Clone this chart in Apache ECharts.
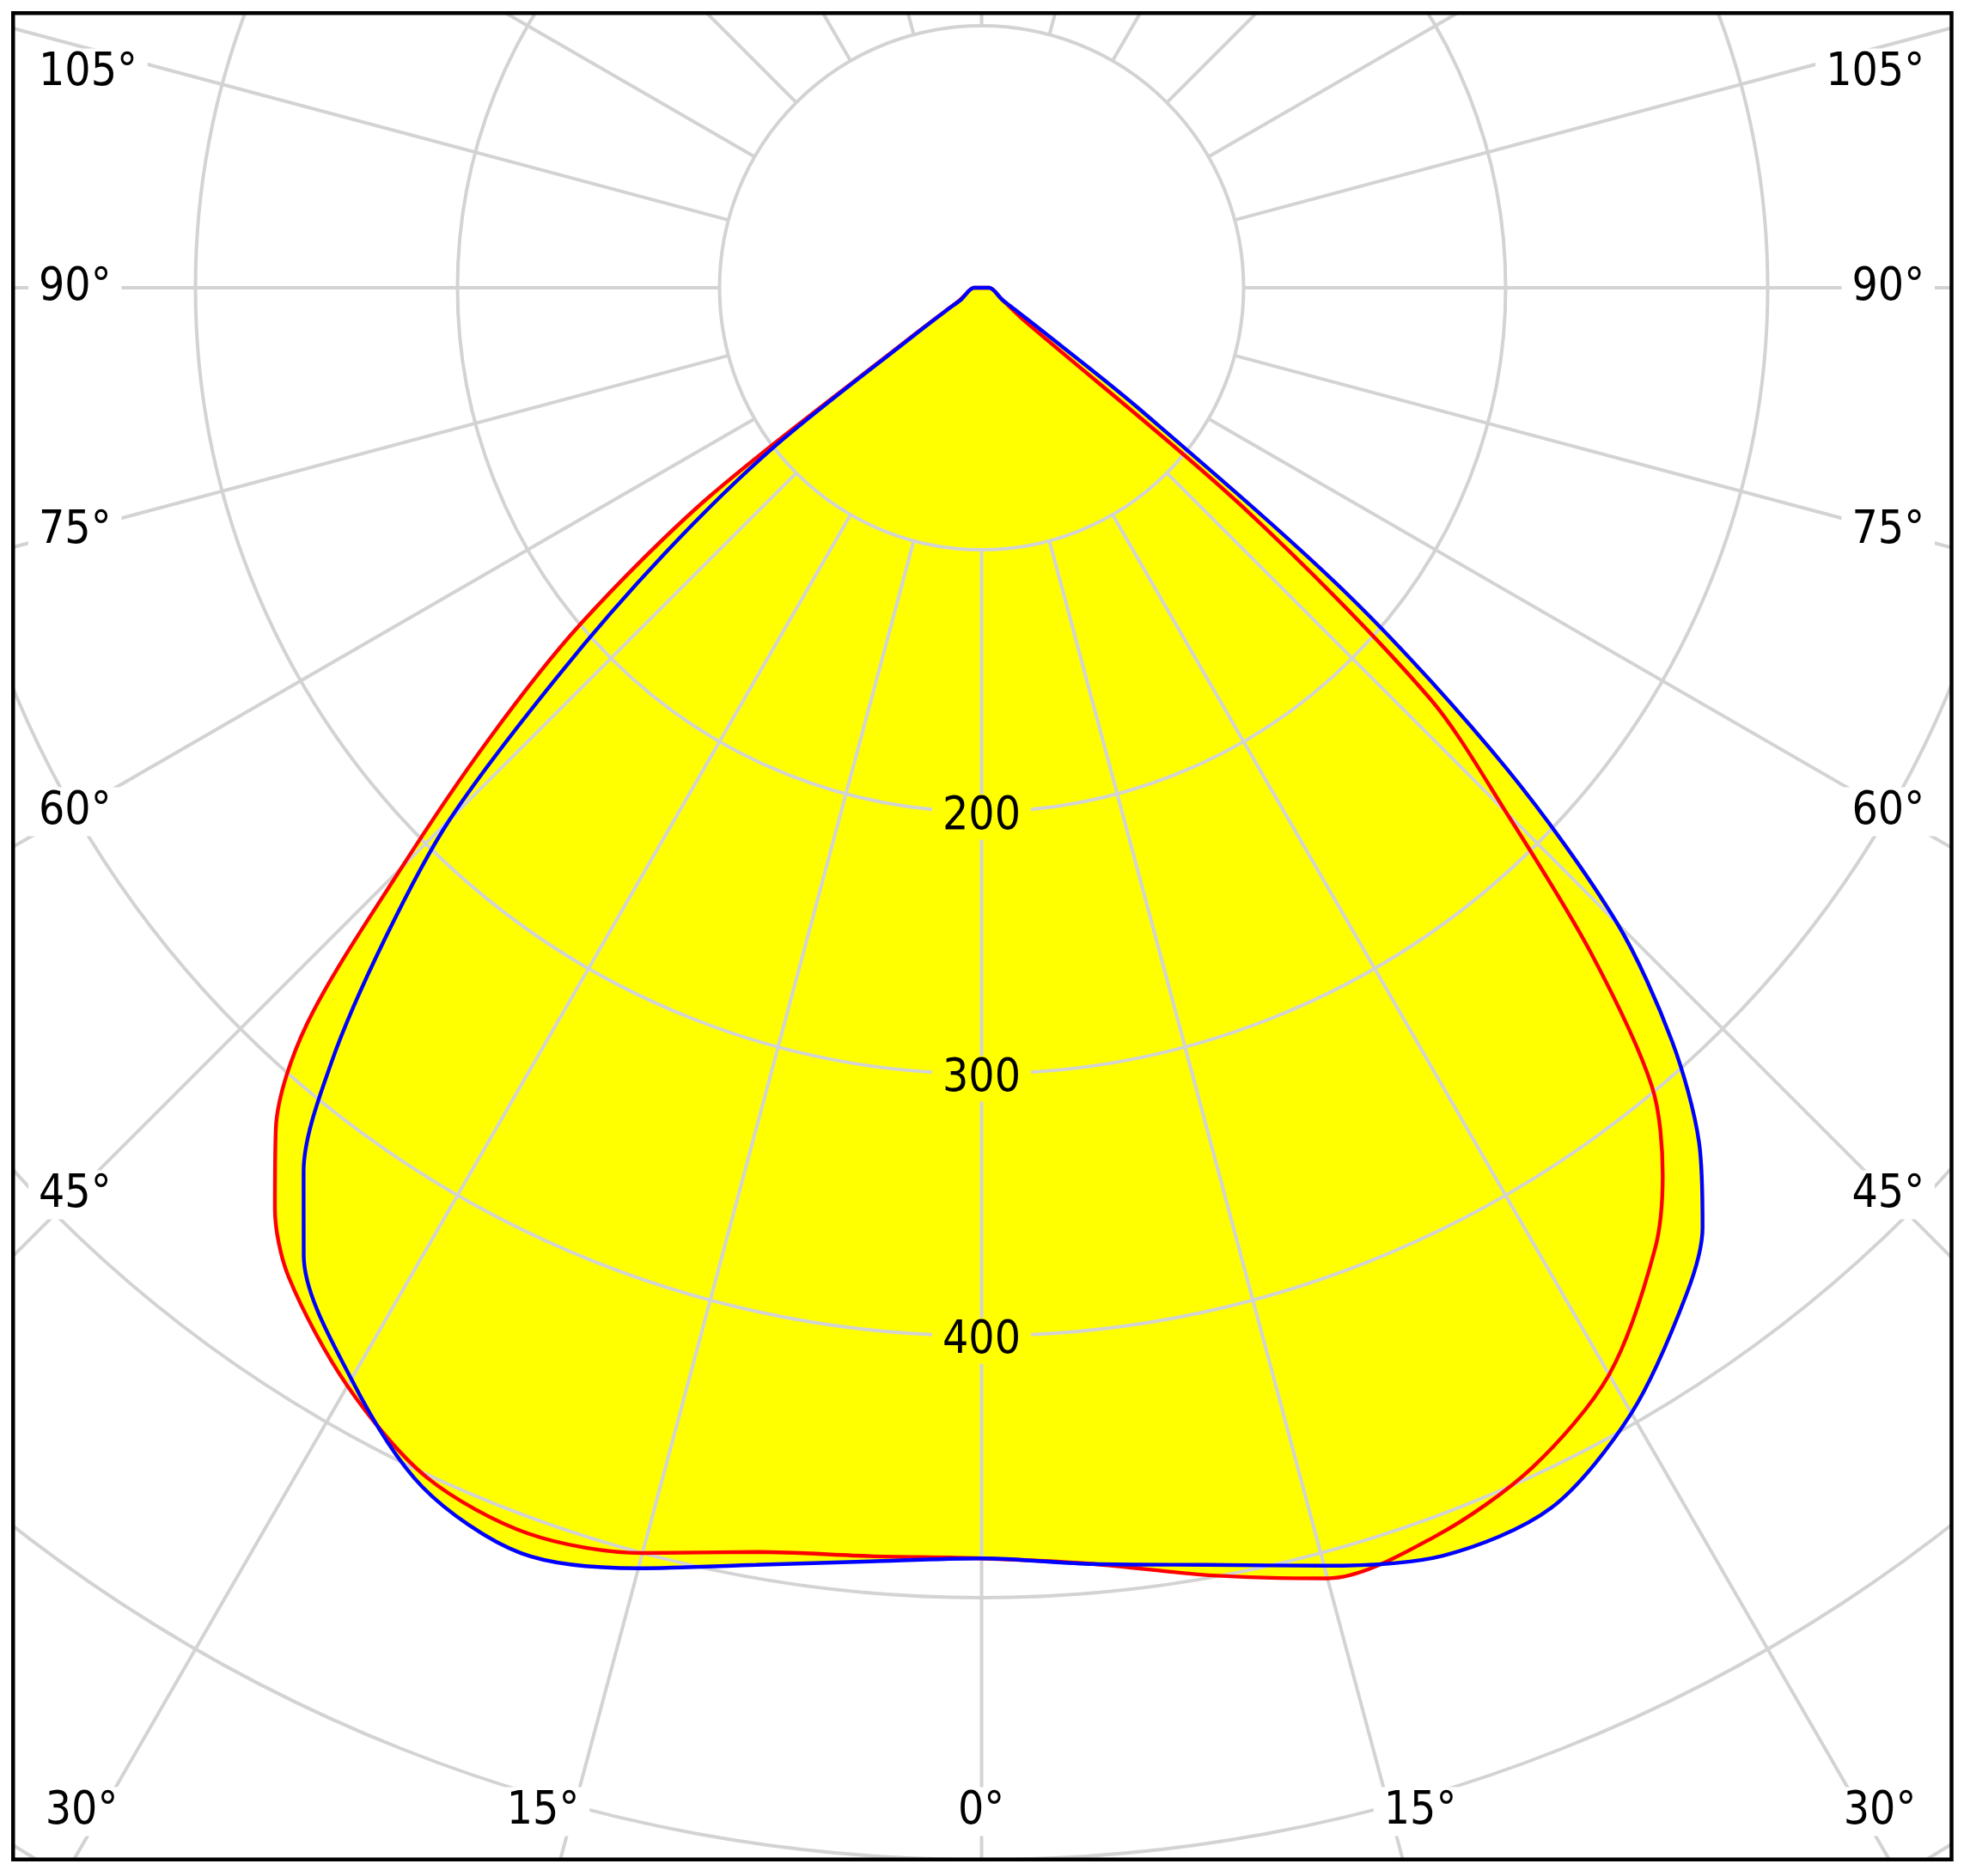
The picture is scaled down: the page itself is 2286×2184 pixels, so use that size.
<!DOCTYPE html>
<html>
<head>
<meta charset="utf-8">
<script src="https://cdn.jsdelivr.net/npm/echarts@6/dist/echarts.min.js"></script>
<style>
html,body{margin:0;padding:0;background:#ffffff;}
#chart{width:2286px;height:2184px;}
</style>
</head>
<body>
<div id="chart"></div>
<script>
// ---------------- data ----------------
// gamma angles (degrees from nadir) at which intensities were read
const gammaAngles = [0, 5, 10, 15, 20, 25, 30, 35, 37.5, 40, 42.5, 45, 47.5, 50, 52.5, 55, 57.5, 60, 70, 80, 90, 180];
// red curve: left half and right half of the plane
const redLeft   = [485, 486, 490, 500, 506, 501, 484, 461, 443, 419, 381, 313, 255, 200, 131, 33, 16, 10, 6, 4.5, 3, 0];
const redRight  = [485, 489, 499, 510, 507, 497, 479, 448, 427, 398, 344, 283, 232, 130, 20, 14, 11, 9, 6, 4.5, 3, 0];
// blue curve: left half and right half of the plane
const blueLeft  = [485, 488, 495, 506, 514, 505, 481, 451, 425, 386, 337, 287, 219, 158, 100, 30, 15, 9, 6, 4.5, 3, 0];
const blueRight = [485, 489, 495, 505, 515, 514, 496, 469, 452, 426, 390, 343, 272, 184, 75, 25, 13, 9, 6, 4.5, 3, 0];
// radial tick labels shown on the nadir spoke
const radiusTickLabels = [200, 300, 400];
// angle labels at the frame
const sideAngleLabels = ['105°', '90°', '75°', '60°', '45°'];
const bottomAngleLabels = ['30°', '15°', '0°', '15°', '30°'];

// ---------------- layout ----------------
const W = 2286, H = 2184;
const CX = 1142.5, CY = 335;           // pole of the diagram
const PX_PER_100 = 305;                // pixels per 100 units
const R_MAX = 800;
const OUTER = R_MAX / 100 * PX_PER_100;
const INNER = PX_PER_100;              // spokes start on the 100 circle
const FRAME = {l: 15.25, t: 15.25, r: 2271.5, b: 2164.75, w: 4.5};
const sideLabelY = [85, 335, 618, 945, 1391];
const sideLabelLeftX = 45, sideLabelRightX = 2240;
const bottomLabelY = 2109;
const bottomLabelX = [95, 632, 1142, 1653, 2188];
const FONT = '"DejaVu Sans Condensed", "Liberation Sans", sans-serif';
const FONT_SIZE = 53;
const GRID = '#d3d3d3';
const GRID_W = 4;
const CURVE_W = 4.4;
const SMOOTH = 0.3;

function buildCurve(left, right) {
  const pts = [];
  for (let i = gammaAngles.length - 1; i >= 0; i--) pts.push([right[i], -gammaAngles[i]]);
  for (let i = 1; i < gammaAngles.length; i++) pts.push([left[i], gammaAngles[i]]);
  return pts;
}
const redCurve = buildCurve(redLeft, redRight);
const blueCurve = buildCurve(blueLeft, blueRight);

const chart = echarts.init(document.getElementById('chart'), null, {renderer: 'canvas', width: W, height: H});

const graphics = [];
// white masks outside the frame
graphics.push({type: 'rect', zlevel: 3, z: 1, silent: true, shape: {x: 0, y: 0, width: W, height: FRAME.t}, style: {fill: '#fff'}});
graphics.push({type: 'rect', zlevel: 3, z: 1, silent: true, shape: {x: 0, y: FRAME.b, width: W, height: H - FRAME.b}, style: {fill: '#fff'}});
graphics.push({type: 'rect', zlevel: 3, z: 1, silent: true, shape: {x: 0, y: 0, width: FRAME.l, height: H}, style: {fill: '#fff'}});
graphics.push({type: 'rect', zlevel: 3, z: 1, silent: true, shape: {x: FRAME.r, y: 0, width: W - FRAME.r, height: H}, style: {fill: '#fff'}});
// frame
graphics.push({type: 'rect', zlevel: 3, z: 2, silent: true,
  shape: {x: FRAME.l, y: FRAME.t, width: FRAME.r - FRAME.l, height: FRAME.b - FRAME.t},
  style: {fill: null, stroke: '#000', lineWidth: FRAME.w}});
// angle labels
function label(text, x, y, align) {
  return {type: 'text', zlevel: 3, z: 3, silent: true, x: x, y: y,
    style: {text: text, fill: '#000', fontSize: FONT_SIZE, fontFamily: FONT,
      align: align, verticalAlign: 'middle', backgroundColor: '#fff', padding: [2, 12, 2, 12]}};
}
sideAngleLabels.forEach((t, i) => {
  graphics.push(label(t, sideLabelLeftX - 12, sideLabelY[i], 'left'));
  graphics.push(label(t, sideLabelRightX + 12, sideLabelY[i], 'right'));
});
bottomAngleLabels.forEach((t, i) => {
  graphics.push(label(t, bottomLabelX[i], bottomLabelY, 'center'));
});

const option = {
  animation: false,
  backgroundColor: '#ffffff',
  polar: [
    {center: [CX, CY], radius: [INNER, OUTER]},
    {center: [CX, CY], radius: [0, OUTER]}
  ],
  angleAxis: [
    {polarIndex: 0, type: 'value', min: -180, max: 180, interval: 15, startAngle: 90, clockwise: true,
      zlevel: 1, axisLine: {show: false}, axisTick: {show: false}, axisLabel: {show: false},
      splitLine: {show: true, lineStyle: {color: GRID, width: GRID_W}}, splitArea: {show: false}},
    {polarIndex: 1, type: 'value', min: -180, max: 180, startAngle: 90, clockwise: true, show: false}
  ],
  radiusAxis: [
    {polarIndex: 0, type: 'value', min: 100, max: R_MAX, interval: 100, zlevel: 1,
      axisLine: {show: false}, axisTick: {show: false}, axisLabel: {show: false},
      splitLine: {show: true, lineStyle: {color: GRID, width: GRID_W}}, splitArea: {show: false}},
    {polarIndex: 1, type: 'value', min: 0, max: R_MAX, show: false}
  ],
  series: [
    {type: 'line', coordinateSystem: 'polar', polarIndex: 1, zlevel: 0, z: 1, silent: true,
      data: redCurve, symbol: 'none', smooth: SMOOTH, lineStyle: {width: 0, opacity: 0},
      areaStyle: {color: '#ffff00', opacity: 1}},
    {type: 'line', coordinateSystem: 'polar', polarIndex: 1, zlevel: 0, z: 1, silent: true,
      data: blueCurve, symbol: 'none', smooth: SMOOTH, lineStyle: {width: 0, opacity: 0},
      areaStyle: {color: '#ffff00', opacity: 1}},
    {type: 'line', coordinateSystem: 'polar', polarIndex: 1, zlevel: 2, z: 2, silent: true,
      data: redCurve, symbol: 'none', smooth: SMOOTH, lineStyle: {color: '#ff0000', width: CURVE_W}},
    {type: 'line', coordinateSystem: 'polar', polarIndex: 1, zlevel: 2, z: 3, silent: true,
      data: blueCurve, symbol: 'none', smooth: SMOOTH, lineStyle: {color: '#0000ff', width: CURVE_W}},
    {type: 'scatter', coordinateSystem: 'polar', polarIndex: 1, zlevel: 2, z: 4, silent: true,
      data: radiusTickLabels.map(v => [v, 0]), symbol: 'circle', symbolSize: 0,
      itemStyle: {color: '#ffff00', opacity: 1},
      emphasis: {disabled: true},
      label: {show: true, position: 'inside', offset: [0, 6], formatter: p => String(p.value[0]),
        color: '#000000', opacity: 1, textBorderWidth: 0, textShadowBlur: 0,
        fontSize: FONT_SIZE, fontFamily: FONT, backgroundColor: '#ffff00', padding: [0, 12, 0, 12]}}
  ],
  graphic: {elements: graphics}
};
chart.setOption(option);
</script>
</body>
</html>
